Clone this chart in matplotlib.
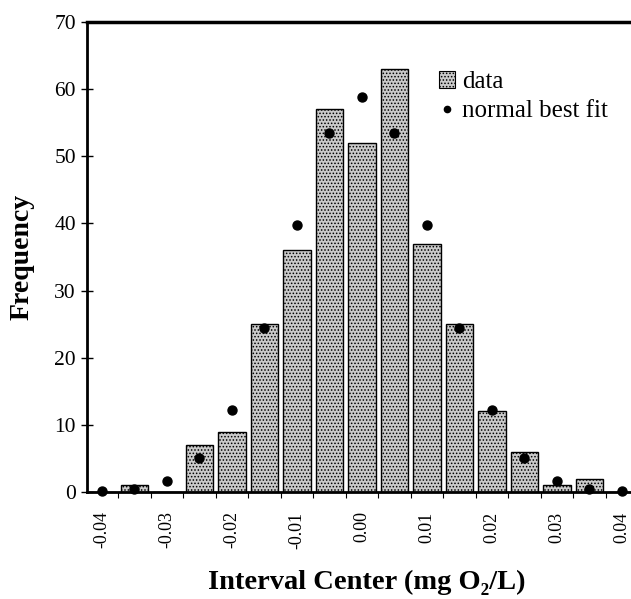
import numpy as np
import matplotlib
matplotlib.use('agg')
import matplotlib.pyplot as plt
from matplotlib.patches import Patch
from matplotlib.lines import Line2D

# interval centers (mg O2/L) and observed counts
centers = [-0.04, -0.035, -0.03, -0.025, -0.02, -0.015, -0.01, -0.005, 0.0,
           0.005, 0.01, 0.015, 0.02, 0.025, 0.03, 0.035, 0.04]
counts = [0, 1, 0, 7, 9, 25, 36, 57, 52, 63, 37, 25, 12, 6, 1, 2, 0]
# normal best fit at each center
fit = [0.1, 0.5, 1.6, 5.0, 12.2, 24.4, 39.8, 53.5, 58.8,
       53.5, 39.8, 24.4, 12.2, 5.0, 1.6, 0.5, 0.1]
xticks = [-0.04, -0.03, -0.02, -0.01, 0.0, 0.01, 0.02, 0.03, 0.04]
xtick_labels = ['-0.04', '-0.03', '-0.02', '-0.01', '0.00', '0.01', '0.02', '0.03', '0.04']
yticks = [0, 10, 20, 30, 40, 50, 60, 70]

plt.rcParams['font.family'] = ['Liberation Serif', 'DejaVu Serif']
plt.rcParams['hatch.linewidth'] = 0.7
plt.rcParams['hatch.color'] = '#606060'

fig = plt.figure(figsize=(6.31, 5.99), dpi=100)
ax = fig.add_axes([87/631, 1 - 492/599, (631 - 87)/631, (492 - 22)/599])

bar_face = '#cacaca'
ax.bar(centers, counts, width=0.0042, facecolor=bar_face, edgecolor='black',
       linewidth=1.0, hatch='.....', zorder=2)
ax.scatter(centers, fit, s=42, color='black', zorder=3, clip_on=False)

ax.set_xlim(-0.0423, 0.0414)
ax.set_ylim(0, 70)
ax.set_yticks(yticks)
ax.set_xticks(xticks)
ax.set_xticklabels(xtick_labels, rotation=90, fontsize=13)
edges = np.arange(-0.0375, 0.04, 0.005)
ax.set_xticks(edges, minor=True)
ax.tick_params(axis='x', which='major', length=0, pad=14)
ax.tick_params(axis='x', which='minor', direction='out', length=4, width=0.8)
ax.tick_params(axis='y', direction='inout', length=8, width=1, labelsize=15.5, pad=4)

ax.spines['right'].set_visible(False)
ax.spines['top'].set_linewidth(2.5)
ax.spines['left'].set_linewidth(2)
ax.spines['bottom'].set_linewidth(2)

ax.set_ylabel('Frequency', fontsize=20, fontweight='bold', labelpad=14)
ax.set_xlabel('Interval Center (mg O\u2082/L)', fontsize=20.5, fontweight='bold')
ax.xaxis.set_label_coords(0.515, -0.166)

handles = [Patch(facecolor=bar_face, edgecolor='black', hatch='.....', linewidth=0.8),
           Line2D([], [], marker='o', color='black', linestyle='none', markersize=4.5)]
ax.legend(handles, ['data', 'normal best fit'], loc='upper left',
          bbox_to_anchor=(0.628, 0.917), frameon=False, fontsize=18,
          handlelength=0.65, handleheight=0.65, handletextpad=0.3, labelspacing=0.28,
          borderaxespad=0)

fig.savefig('out.png', dpi=100)
